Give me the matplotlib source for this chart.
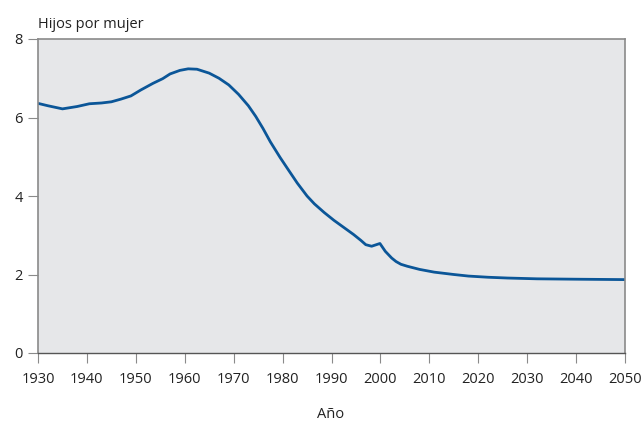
import matplotlib
matplotlib.use("Agg")
import matplotlib.pyplot as plt

years = [1930, 1932, 1935, 1938, 1940.5, 1943, 1945, 1947, 1949, 1951, 1953.5, 1955.5, 1957, 1959,
         1960.7, 1962.5, 1965, 1967, 1969, 1971, 1973, 1974.5, 1976, 1977.5, 1979.5, 1981,
         1983, 1985, 1986.5, 1988.5, 1990.5, 1992.5, 1994.5, 1996, 1997, 1998.2, 1999.9,
         2001, 2002.3, 2003.2, 2004.2, 2005.5, 2008, 2011, 2015, 2018, 2022, 2026, 2032, 2040, 2050]
tfr = [6.36, 6.30, 6.22, 6.28, 6.35, 6.37, 6.40, 6.47, 6.55, 6.70, 6.87, 6.99, 7.11, 7.20,
       7.24, 7.23, 7.13, 7.00, 6.83, 6.59, 6.30, 6.03, 5.72, 5.38, 4.98, 4.70, 4.33, 4.00,
       3.80, 3.58, 3.38, 3.20, 3.02, 2.87, 2.76, 2.72, 2.79, 2.59, 2.42, 2.33, 2.26, 2.21,
       2.13, 2.06, 2.00, 1.96, 1.93, 1.91, 1.89, 1.88, 1.87]
xticks = list(range(1930, 2051, 10))
yticks = [0, 2, 4, 6, 8]

plt.rcParams['font.family'] = ['Open Sans', 'DejaVu Sans']

fig = plt.figure(figsize=(6.43, 4.22), dpi=100)
ax = fig.add_axes([38/643, 1-353/422, (625-38)/643, (353-39)/422])
ax.set_facecolor('#e6e7e9')
ax.plot(years, tfr, color='#0b5698', lw=2.0, solid_capstyle='butt', solid_joinstyle='round')
ax.set_xlim(1930, 2050)
ax.set_ylim(0, 8)
ax.set_xticks(xticks)
ax.set_yticks(yticks)
ax.tick_params(axis='both', direction='out', length=7, width=0.8, color='#8a8a8a',
               labelsize=10.5, labelcolor='#222222')
ax.tick_params(axis='x', pad=7)
ax.tick_params(axis='y', pad=4)
for s in ['left', 'top', 'right']:
    ax.spines[s].set_color('#8a8a8a')
    ax.spines[s].set_linewidth(1.2)
ax.spines['bottom'].set_color('#555555')
ax.spines['bottom'].set_linewidth(1.0)
fig.text(38/643, 1-25/422, 'Hijos por mujer', fontsize=10.5, color='#222222', ha='left', va='center')
fig.text(331/643, 1-414/422, 'Año', fontsize=10.5, color='#222222', ha='center', va='center')
fig.savefig('out.png', dpi=100)
